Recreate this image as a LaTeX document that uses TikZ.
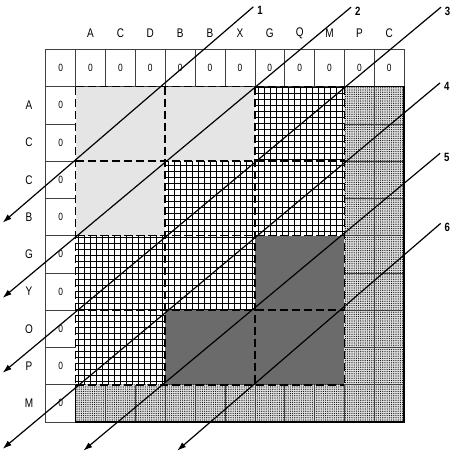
\documentclass[tikz,border=0pt]{standalone}
\usepackage{fontspec}
\setmainfont{Liberation Sans}
\usetikzlibrary{positioning,patterns.meta,arrows.meta}

\begin{document}
\begin{tikzpicture}[x=29.88pt, y=-37.27pt,
    cellline/.style = {draw=black!75, line width=0.6pt},
    lite/.style = {fill=black!10},
    mesh/.style = {pattern={Hatch[angle=0,distance=6pt,line width=0.55pt]}},
    dark/.style = {fill=black!58},
    dotfill/.style = {preaction={fill=black!12}, pattern={Dots[distance=2.2pt,radius=0.6pt]}},
    bound/.style = {line width=1.6pt, dash pattern=on 8pt off 4pt},
    rim/.style = {line width=1.8pt},
    flow/.style = {line width=1.2pt, -{Latex[length=9pt,width=6pt]}},
    colhead/.style = {font=\fontsize{12.5}{14}\selectfont, xscale=0.8},
    zero/.style = {font=\fontsize{10.5}{12}\selectfont, xscale=0.8},
    num/.style = {font=\fontsize{12}{14}\selectfont\bfseries, xscale=0.8, inner sep=1pt}]
      \useasboundingbox (-1.529,-1.323) rectangle (13.631,10.832);

      % blocks
      \foreach \a/\b in {1/1, 4/1, 1/3} \fill[lite] (\a,\b) rectangle ++(3,2);
      \foreach \a/\b in {7/1, 4/3, 7/3, 1/5, 4/5, 1/7} \fill[mesh] (\a,\b) rectangle ++(3,2);
      \foreach \a/\b in {7/5, 4/7, 7/7} \fill[dark] (\a,\b) rectangle ++(3,2);

      % dotted border cells
      \fill[dotfill] (10,1) rectangle (12,9);
      \fill[dotfill] (1,9) rectangle (12,10);
      \foreach \y in {2,...,9} \draw[cellline] (10,\y) -- (12,\y);
      \draw[cellline] (11,1) -- (11,10);
      \foreach \x in {2,...,10} \draw[cellline] (\x,9) -- (\x,10);

      % header cells
      \draw[cellline] (0,0) rectangle (12,1);
      \foreach \x in {1,...,11} \draw[cellline] (\x,0) -- (\x,1);
      \draw[cellline] (0,1) -- (0,10) -- (1,10);
      \foreach \y in {2,...,9} \draw[cellline] (0,\y) -- (1,\y);

      % dashed block borders
      \foreach \x in {1,4,7,10} \draw[bound] (\x,1) -- (\x,9);
      \foreach \y in {1,3,5,7,9} \draw[bound] (1,\y) -- (10,\y);
      \draw[rim] (10,1) -| (12,10) -| (1,9);

      % labels
      \foreach \l [count=\i] in {A,C,D,B,B,X,G,Q,M,P,C} \node[colhead] (c\i) at (\i+0.5,-0.44) {\l};
      \foreach \l [count=\i] in {A,C,C,B,G,Y,O,P,M} \node[colhead] (r\i) at (-0.56,\i+0.5) {\l};
      \foreach \i in {0,...,11} \node[zero] (h\i) at (\i+0.5,0.5) {0};
      \foreach \i in {1,...,9} \node[zero] (z\i) at (0.5,\i+0.5) {0};

      % diagonals
      \coordinate (t1) at (6.95,-1.14);  \coordinate (e1) at (-1.44,4.65);
      \coordinate (t2) at (10.22,-1.13); \coordinate (e2) at (-1.44,6.67);
      \coordinate (t3) at (13.23,-1.13); \coordinate (e3) at (-1.44,8.68);
      \coordinate (t4) at (13.20,0.90);  \coordinate (e4) at (-1.44,10.72);
      \coordinate (t5) at (13.20,2.79);  \coordinate (e5) at (1.26,10.77);
      \coordinate (t6) at (13.22,4.67);  \coordinate (e6) at (4.40,10.77);
      \foreach \i in {1,...,6} {
        \draw[flow] (t\i) -- (e\i);
        \node[num, right=3pt of t\i, yshift=-4pt] (n\i) {\i};
      }
    \end{tikzpicture}
\end{document}
